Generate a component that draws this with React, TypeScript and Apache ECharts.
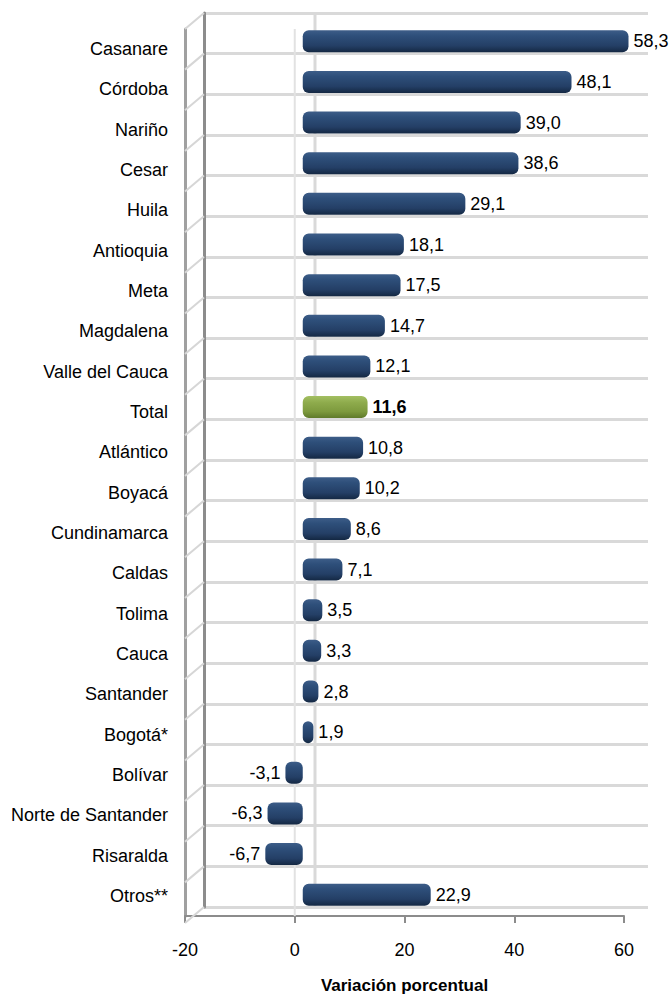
import React, { useEffect, useRef } from "react";
import * as echarts from "echarts";

const categories = [
  "Casanare", "Córdoba", "Nariño", "Cesar", "Huila", "Antioquia", "Meta",
  "Magdalena", "Valle del Cauca", "Total", "Atlántico", "Boyacá", "Cundinamarca",
  "Caldas", "Tolima", "Cauca", "Santander", "Bogotá*", "Bolívar",
  "Norte de Santander", "Risaralda", "Otros**",
];
const values = [
  58.3, 48.1, 39.0, 38.6, 29.1, 18.1, 17.5, 14.7, 12.1, 11.6, 10.8, 10.2, 8.6,
  7.1, 3.5, 3.3, 2.8, 1.9, -3.1, -6.3, -6.7, 22.9,
];
const highlight = "Total";
const xMin = -20;
const xMax = 60;
const xInterval = 20;
const axisTitle = "Variación porcentual";

const FONT = "'Liberation Sans', Arial, sans-serif";

const fmt = (v: number) => v.toFixed(1).replace(".", ",");

const navy = new echarts.graphic.LinearGradient(0, 0, 0, 1, [
  { offset: 0, color: "#3d5d88" },
  { offset: 0.25, color: "#2e4f7a" },
  { offset: 0.7, color: "#243f66" },
  { offset: 1, color: "#142843" },
]);
const green = new echarts.graphic.LinearGradient(0, 0, 0, 1, [
  { offset: 0, color: "#a3bf62" },
  { offset: 0.3, color: "#8eab4c" },
  { offset: 0.7, color: "#7d9a3e" },
  { offset: 1, color: "#5f7a2a" },
]);

export default function App() {
  const ref = useRef<HTMLDivElement>(null);
  useEffect(() => {
    if (!ref.current) return;
    const chart = echarts.init(ref.current, null, { renderer: "svg" });
    const n = categories.length;
    // layout (decoration)
    const back = { left: 204, top: 13, right: 648, bottom: 907 };
    const front = { left: 185, top: 29, right: 624, bottom: 923 };
    const mid = { left: 191, top: 21, right: 638, bottom: 915 };
    const g = (r: any) => ({
      left: r.left,
      top: r.top,
      width: r.right - r.left,
      height: r.bottom - r.top,
      containLabel: false,
    });
    const rowH = (back.bottom - back.top) / n;
    const diagonals: any[] = [];
    for (let k = 0; k <= n; k++) {
      diagonals.push({
        type: "line",
        z: 1,
        shape: {
          x1: front.left,
          y1: front.top + k * rowH,
          x2: back.left,
          y2: back.top + k * rowH,
        },
        style: { stroke: "#d6d6d6", lineWidth: 2 },
      });
    }

    const barData = values.map((v, i) => {
      const isHi = categories[i] === highlight;
      return {
        value: v,
        itemStyle: { color: isHi ? green : navy },
        label: {
          position: v < 0 ? "left" : "right",
          fontWeight: isHi ? "bold" : "normal",
        },
      };
    });

    chart.setOption({
      animation: false,
      backgroundColor: "#ffffff",
      grid: [g(back), g(mid), g(front)],
      xAxis: [
        {
          gridIndex: 0,
          type: "value",
          min: xMin,
          max: xMax,
          interval: xInterval,
          show: false,
        },
        {
          gridIndex: 1,
          type: "value",
          min: xMin,
          max: xMax,
          interval: xInterval,
          show: false,
        },
        {
          gridIndex: 2,
          type: "value",
          min: xMin,
          max: xMax,
          interval: xInterval,
          position: "bottom",
          axisLine: { show: true, onZero: false, lineStyle: { color: "#8c8c8c", width: 2 } },
          axisTick: { show: true, length: 7, lineStyle: { color: "#8c8c8c", width: 2 } },
          axisLabel: {
            margin: 25,
            color: "#000",
            fontSize: 18,
            fontFamily: FONT,
          },
          splitLine: { show: false },
          name: axisTitle,
          nameLocation: "middle",
          nameGap: 61,
          nameTextStyle: {
            color: "#000",
            fontSize: 17,
            fontWeight: "bold",
            fontFamily: FONT,
          },
        },
      ],
      yAxis: [
        {
          gridIndex: 0,
          type: "value",
          min: 0,
          max: n,
          interval: 1,
          axisLabel: { show: false },
          axisTick: { show: false },
          axisLine: { show: true, onZero: false, lineStyle: { color: "#8c8c8c", width: 3 } },
          splitLine: { show: true, lineStyle: { color: "#d9d9d9", width: 3 } },
        },
        {
          gridIndex: 1,
          type: "category",
          data: categories,
          inverse: true,
          show: false,
        },
        {
          gridIndex: 2,
          type: "category",
          data: categories,
          inverse: true,
          axisLine: { show: true, onZero: false, lineStyle: { color: "#a0a0a0", width: 3 } },
          axisTick: { show: false },
          axisLabel: {
            margin: 17,
            color: "#000",
            fontSize: 18,
            fontFamily: FONT,
          },
          splitLine: { show: false },
        },
        {
          gridIndex: 2,
          type: "value",
          min: 0,
          max: n,
          show: false,
        },
      ],
      series: [
        {
          type: "line",
          xAxisIndex: 0,
          yAxisIndex: 0,
          data: [
            [0, 0],
            [0, n],
          ],
          symbol: "none",
          silent: true,
          lineStyle: { color: "#d9d9d9", width: 3 },
          z: 1,
        },
        {
          type: "line",
          xAxisIndex: 2,
          yAxisIndex: 3,
          data: [
            [0, 0],
            [0, n],
          ],
          symbol: "none",
          silent: true,
          lineStyle: { color: "#e2e2e2", width: 2 },
          z: 1,
        },
        {
          type: "bar",
          xAxisIndex: 1,
          yAxisIndex: 1,
          data: barData,
          barWidth: 22,
          z: 3,
          itemStyle: { borderRadius: 6 },
          label: {
            show: true,
            distance: 5,
            color: "#000",
            fontSize: 18,
            fontFamily: FONT,
            formatter: (p: any) => fmt(p.value),
          },
        },
      ],
      graphic: diagonals,
    });
    return () => chart.dispose();
  }, []);
  return (
    <div
      ref={ref}
      style={{ position: "fixed", left: 0, top: 0, width: 671, height: 999 }}
    />
  );
}
